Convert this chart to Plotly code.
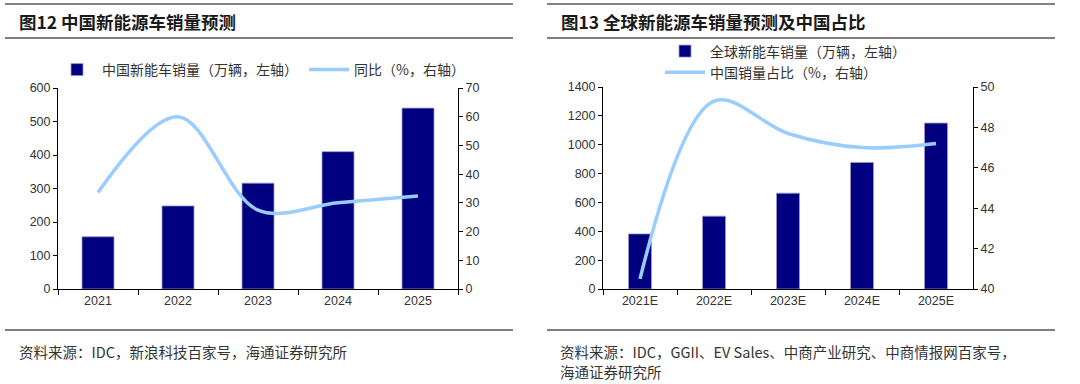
import plotly.graph_objects as go

# ---- data ----
years_cn = ["2021", "2022", "2023", "2024", "2025"]
cn_sales = [156, 248, 316, 410, 540]          # 万辆
cn_yoy = [33.6, 60.0, 27.5, 30.0, 32.4]       # %

years_gl = ["2021E", "2022E", "2023E", "2024E", "2025E"]
gl_sales = [382, 505, 664, 877, 1150]         # 万辆
cn_share = [40.5, 49.3, 47.7, 47.0, 47.2]     # %

title_left = "<b>图12 中国新能源车销量预测</b>"
title_right = "<b>图13 全球新能源车销量预测及中国占比</b>"
src_left = "资料来源：IDC，新浪科技百家号，海通证券研究所"
src_right_1 = "资料来源：IDC，GGII、EV Sales、中商产业研究、中商情报网百家号，"
src_right_2 = "海通证券研究所"

NAVY = "#000080"
LBLUE = "#99CCFF"
GRAY = "#808080"
TICK_FONT = dict(family="Liberation Sans, Arial", size=12.5, color="#333333")
CJK = "Noto Sans CJK SC"

W, H = 1080, 384
OFF = 0  # body margin removed via post_script
def px(x):
    return (x - OFF) / W
def py(y):
    return 1 - (y - OFF) / H

fig = go.Figure()

fig.add_trace(go.Bar(x=years_cn, y=cn_sales, name="中国新能车销量（万辆，左轴）",
                     marker=dict(color=NAVY, line=dict(color="#9999CC", width=0.8)),
                     width=0.4, xaxis="x", yaxis="y", legend="legend"))
fig.add_trace(go.Scatter(x=years_cn, y=cn_yoy, name="同比（%，右轴）", mode="lines",
                         line=dict(color=LBLUE, width=3.5, shape="spline", smoothing=1),
                         xaxis="x", yaxis="y2", legend="legend"))

fig.add_trace(go.Bar(x=years_gl, y=gl_sales, name="全球新能车销量（万辆，左轴）",
                     marker=dict(color=NAVY, line=dict(color="#9999CC", width=0.8)),
                     width=0.31, xaxis="x2", yaxis="y3", legend="legend2"))
fig.add_trace(go.Scatter(x=years_gl, y=cn_share, name="中国销量占比（%，右轴）", mode="lines",
                         line=dict(color=LBLUE, width=3.5, shape="spline", smoothing=1),
                         xaxis="x2", yaxis="y4", legend="legend2"))

xcommon = dict(showline=True, linecolor="black", linewidth=1, ticks="outside",
               tickson="boundaries", ticklen=5, tickcolor="black", showgrid=False,
               tickfont=TICK_FONT, type="category", zeroline=False, automargin=False)
ycommon = dict(showline=True, linecolor="black", linewidth=1, ticks="outside",
               ticklen=4, tickcolor="black", showgrid=False, zeroline=False,
               tickfont=TICK_FONT, automargin=False)

ytop, ybot = py(88), py(289)
fig.update_layout(
    width=W, height=H,
    margin=dict(l=0, r=0, t=0, b=0, autoexpand=False),
    paper_bgcolor="white", plot_bgcolor="white",
    hovermode=False,
    xaxis=dict(domain=[px(58), px(458)], anchor="y", **xcommon),
    yaxis=dict(domain=[ybot, ytop], anchor="x", range=[0, 600], dtick=100, **ycommon),
    yaxis2=dict(overlaying="y", side="right", anchor="x", range=[0, 70], dtick=10, **ycommon),
    xaxis2=dict(domain=[px(603), px(973)], anchor="y3", **xcommon),
    yaxis3=dict(domain=[ybot, py(87)], anchor="x2", range=[0, 1400], dtick=200, **ycommon),
    yaxis4=dict(overlaying="y3", side="right", anchor="x2", range=[40, 50], dtick=2, **ycommon),
    legend=dict(orientation="h", x=px(52), y=py(70), xanchor="left", yanchor="middle",
                font=dict(family=CJK, size=14, color="#333333"), bgcolor="rgba(0,0,0,0)",
                itemwidth=40, entrywidth=197, tracegroupgap=0),
    legend2=dict(orientation="v", x=px(660), y=py(62), xanchor="left", yanchor="middle",
                 font=dict(family=CJK, size=14, color="#333333"), bgcolor="rgba(0,0,0,0)",
                 itemwidth=40, tracegroupgap=0),
    showlegend=True,
)

# header / footer rules
shapes = []
for x0, x1 in [(5, 513), (547, 1055)]:
    for yy in (4, 38, 330):
        shapes.append(dict(type="line", xref="paper", yref="paper",
                           x0=px(x0), x1=px(x1), y0=py(yy), y1=py(yy),
                           line=dict(color=GRAY, width=2)))
fig.update_layout(shapes=shapes)

annos = [
    dict(text=title_left, x=px(17), y=py(22), xanchor="left", yanchor="middle",
         font=dict(family=CJK, size=17.5, color="#1a1a1a")),
    dict(text=title_right, x=px(559), y=py(22), xanchor="left", yanchor="middle",
         font=dict(family=CJK, size=17.5, color="#1a1a1a")),
    dict(text=src_left, x=px(17), y=py(351), xanchor="left", yanchor="middle",
         font=dict(family=CJK, size=14.5, color="#333333")),
    dict(text=src_right_1, x=px(558), y=py(351), xanchor="left", yanchor="middle",
         font=dict(family=CJK, size=14.5, color="#333333")),
    dict(text=src_right_2, x=px(558), y=py(371), xanchor="left", yanchor="middle",
         font=dict(family=CJK, size=14.5, color="#333333")),
]
for a in annos:
    a.update(xref="paper", yref="paper", showarrow=False)
fig.update_layout(annotations=annos)

fig.write_html("out.html", config={"displayModeBar": False},
               post_script="document.body.style.margin='0';document.body.style.overflow='hidden';")
